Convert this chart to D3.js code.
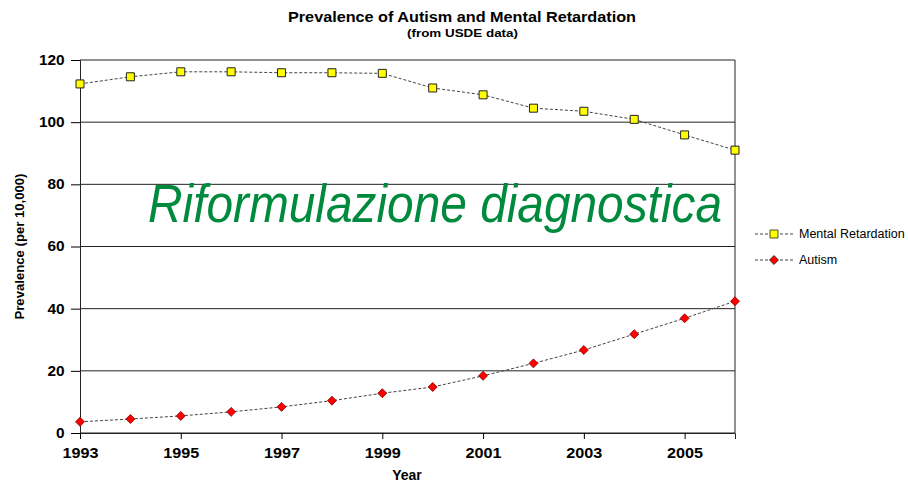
<!DOCTYPE html>
<html>
<head>
<meta charset="utf-8">
<script src="https://cdn.jsdelivr.net/npm/d3@7"></script>
<style>
  body { margin: 0; background: #fff; }
  text { font-family: "Liberation Sans", Arial, sans-serif; }
</style>
</head>
<body>
<div id="chart"></div>
<script>
// data
const years = [1993, 1994, 1995, 1996, 1997, 1998, 1999, 2000, 2001, 2002, 2003, 2004, 2005, 2006];
const mentalRetardation = [112.3, 114.6, 116.2, 116.2, 115.9, 115.9, 115.7, 111.0, 108.8, 104.5, 103.5, 100.9, 95.9, 91.0];
const autism = [3.6, 4.5, 5.5, 6.8, 8.4, 10.4, 12.8, 14.8, 18.4, 22.4, 26.7, 31.8, 36.9, 42.4];
const yTicks = [0, 20, 40, 60, 80, 100, 120];
const xTicks = [1993, 1995, 1997, 1999, 2001, 2003, 2005];

const W = 908, H = 483;
const margin = { top: 60, right: 173, bottom: 50, left: 80 };
const width = W - margin.left - margin.right;
const height = H - margin.top - margin.bottom;

const svg = d3.select("#chart").append("svg")
    .attr("width", W)
    .attr("height", H);

const g = svg.append("g")
    .attr("transform", "translate(" + margin.left + "," + margin.top + ")");

const x = d3.scaleLinear().domain([1993, 2006]).range([0, width]);
const y = d3.scaleLinear().domain([0, 120]).range([height, 0]);

// horizontal grid lines
g.selectAll(".grid")
    .data(yTicks)
    .enter().append("line")
    .attr("x1", 0).attr("x2", width)
    .attr("y1", d => y(d)).attr("y2", d => y(d))
    .attr("stroke", "#222").attr("stroke-width", 1);

// right border
g.append("line")
    .attr("x1", width).attr("x2", width)
    .attr("y1", 0).attr("y2", height)
    .attr("stroke", "#222");

// y axis
const yAxis = g.append("g")
    .call(d3.axisLeft(y).tickValues(yTicks).tickSize(9).tickPadding(6));
yAxis.select(".domain").attr("stroke", "#222");
yAxis.selectAll("text")
    .style("font-size", "14px").style("font-weight", "bold").attr("fill", "#000")
    .attr("transform", "scale(1.1,1)").attr("x", -14);

// x axis
const xAxis = g.append("g")
    .attr("transform", "translate(0," + height + ")")
    .call(d3.axisBottom(x).tickValues(xTicks).tickFormat(d3.format("d")).tickSize(6).tickPadding(9));
xAxis.select(".domain").attr("stroke", "#222");
xAxis.selectAll("text")
    .style("font-size", "14px").style("font-weight", "bold").attr("fill", "#000")
    .attr("textLength", 36).attr("lengthAdjust", "spacingAndGlyphs");

// lines
const line = data => d3.line()
    .x((d, i) => x(years[i]))
    .y(d => y(d))(data);

[mentalRetardation, autism].forEach(series => {
    g.append("path")
        .attr("d", line(series))
        .attr("fill", "none")
        .attr("stroke", "#444")
        .attr("stroke-width", 1)
        .attr("stroke-dasharray", "3,2");
});

// markers
const square = d3.symbol().type(d3.symbolSquare).size(64);
const diamond = d3.symbol().type(d3.symbolSquare).size(40);

g.selectAll(".mr")
    .data(mentalRetardation)
    .enter().append("path")
    .attr("d", square)
    .attr("transform", (d, i) => "translate(" + x(years[i]) + "," + y(d) + ")")
    .attr("fill", "#ffff00").attr("stroke", "#222").attr("stroke-width", 1);

g.selectAll(".au")
    .data(autism)
    .enter().append("path")
    .attr("d", diamond)
    .attr("transform", (d, i) => "translate(" + x(years[i]) + "," + y(d) + ") rotate(45)")
    .attr("fill", "#ff0000").attr("stroke", "#800").attr("stroke-width", 0.8);

// overlay text
g.append("text")
    .attr("x", 148 - margin.left)
    .attr("y", 222 - margin.top)
    .attr("textLength", 574)
    .attr("lengthAdjust", "spacingAndGlyphs")
    .style("font-size", "54px")
    .style("font-style", "italic")
    .attr("fill", "#008a3e")
    .text("Riformulazione diagnostica");

// titles
svg.append("text")
    .attr("x", 288).attr("y", 22)
    .attr("textLength", 348).attr("lengthAdjust", "spacingAndGlyphs")
    .style("font-size", "14px").style("font-weight", "bold")
    .text("Prevalence of Autism and Mental Retardation");
svg.append("text")
    .attr("x", 407).attr("y", 37)
    .attr("textLength", 111).attr("lengthAdjust", "spacingAndGlyphs")
    .style("font-size", "10.5px").style("font-weight", "bold")
    .text("(from USDE data)");

svg.append("text")
    .attr("transform", "translate(24," + (margin.top + height / 2) + ") rotate(-90)")
    .attr("text-anchor", "middle")
    .attr("textLength", 146).attr("lengthAdjust", "spacingAndGlyphs")
    .style("font-size", "12.5px").style("font-weight", "bold")
    .text("Prevalence (per 10,000)");

svg.append("text")
    .attr("x", 407).attr("y", 480)
    .attr("text-anchor", "middle")
    .style("font-size", "14px").style("font-weight", "bold")
    .text("Year");

// legend
const legend = svg.append("g");
const legendItems = [
    { name: "Mental Retardation", y: 234, shape: square, fill: "#ffff00", rot: 0 },
    { name: "Autism", y: 260, shape: diamond, fill: "#ff0000", rot: 45 }
];
legendItems.forEach(item => {
    legend.append("line")
        .attr("x1", 755).attr("x2", 795)
        .attr("y1", item.y).attr("y2", item.y)
        .attr("stroke", "#444").attr("stroke-dasharray", "3,2");
    legend.append("path")
        .attr("d", item.shape)
        .attr("transform", "translate(774," + item.y + ") rotate(" + item.rot + ")")
        .attr("fill", item.fill).attr("stroke", "#222").attr("stroke-width", 0.8);
    legend.append("text")
        .attr("x", 799).attr("y", item.y + 4)
        .style("font-size", "12.5px")
        .text(item.name);
});
</script>
</body>
</html>
